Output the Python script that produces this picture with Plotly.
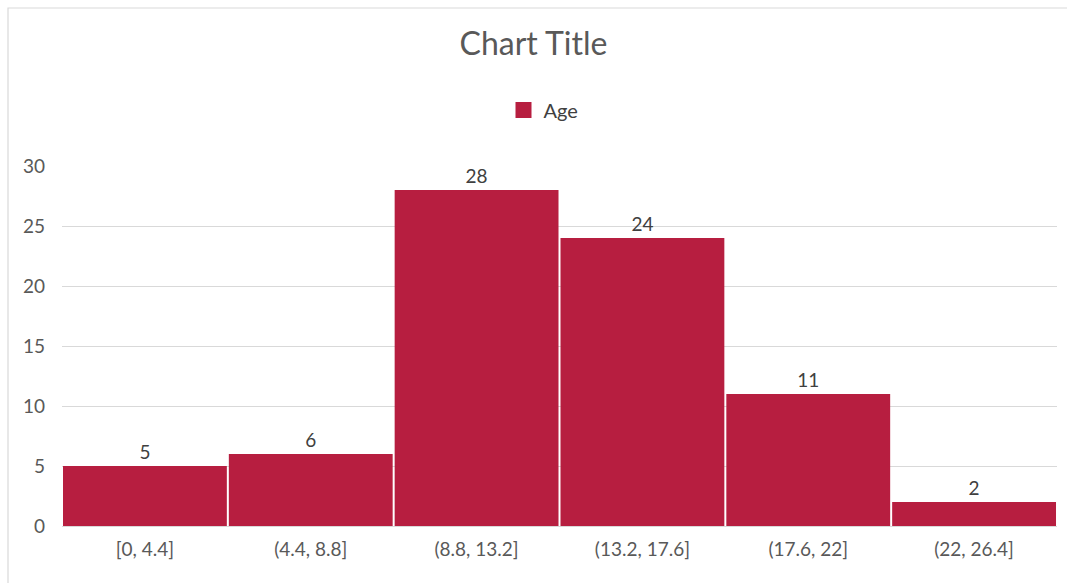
import plotly.graph_objects as go

# Histogram bins and counts
bins = ["[0, 4.4]", "(4.4, 8.8]", "(8.8, 13.2]", "(13.2, 17.6]", "(17.6, 22]", "(22, 26.4]"]
counts = [5, 6, 28, 24, 11, 2]
y_ticks = [0, 5, 10, 15, 20, 25, 30]

W, H = 1067, 583
ML, MR, MT, MB = 62, 10, 166, 57
plot_w = W - ML - MR
plot_h = H - MT - MB

bar_color = "#B71E40"
text_color = "#595959"
font_family = "Lato, 'Open Sans', sans-serif"

fig = go.Figure()
fig.add_trace(
    go.Bar(
        x=bins,
        y=counts,
        name="Age",
        showlegend=False,
        marker=dict(color=bar_color, line=dict(width=0)),
        text=[str(c) for c in counts],
        textposition="outside",
        textfont=dict(size=19, color="#404040", family=font_family),
        cliponaxis=False,
    )
)
# Legend entry with a larger square swatch
fig.add_trace(
    go.Scatter(
        x=[None], y=[None],
        mode="markers",
        name="Age",
        marker=dict(symbol="square", size=18, color=bar_color, line=dict(width=0)),
        showlegend=True,
    )
)

# Light chart-area border along the top and left
bx0 = (8 - ML) / plot_w
by1 = (H - MB - 8) / plot_h
fig.add_shape(
    type="rect", xref="paper", yref="paper",
    x0=bx0, x1=1.2, y0=-0.5, y1=by1,
    line=dict(color="#D9D9D9", width=1.2), fillcolor="rgba(0,0,0,0)", layer="below",
)

fig.update_layout(
    width=W, height=H,
    margin=dict(l=ML, r=MR, t=MT, b=MB),
    paper_bgcolor="white",
    plot_bgcolor="white",
    bargap=0.012,
    font=dict(family=font_family, color=text_color),
    title=dict(
        text="Chart Title",
        x=0.5, xanchor="center",
        y=1 - 44 / H, yanchor="middle",
        font=dict(size=32, color=text_color, family=font_family),
    ),
    showlegend=True,
    legend=dict(
        orientation="h",
        x=0.5 - 16 / plot_w, xanchor="center",
        y=(H - MB - 110) / plot_h, yanchor="middle",
        font=dict(size=20, color="#404040", family=font_family),
        itemwidth=30,
    ),
    xaxis=dict(
        showgrid=False,
        showline=True, linecolor="#D9D9D9", linewidth=1,
        ticks="",
        tickfont=dict(size=19, color=text_color),
        ticklabelstandoff=6,
    ),
    yaxis=dict(
        range=[0, 30],
        tickvals=y_ticks,
        showgrid=True, gridcolor="#D9D9D9", gridwidth=1,
        zeroline=False,
        showline=False,
        ticks="",
        tickfont=dict(size=19, color=text_color),
        ticklabelstandoff=16,
    ),
)

fig.write_html("out.html")
